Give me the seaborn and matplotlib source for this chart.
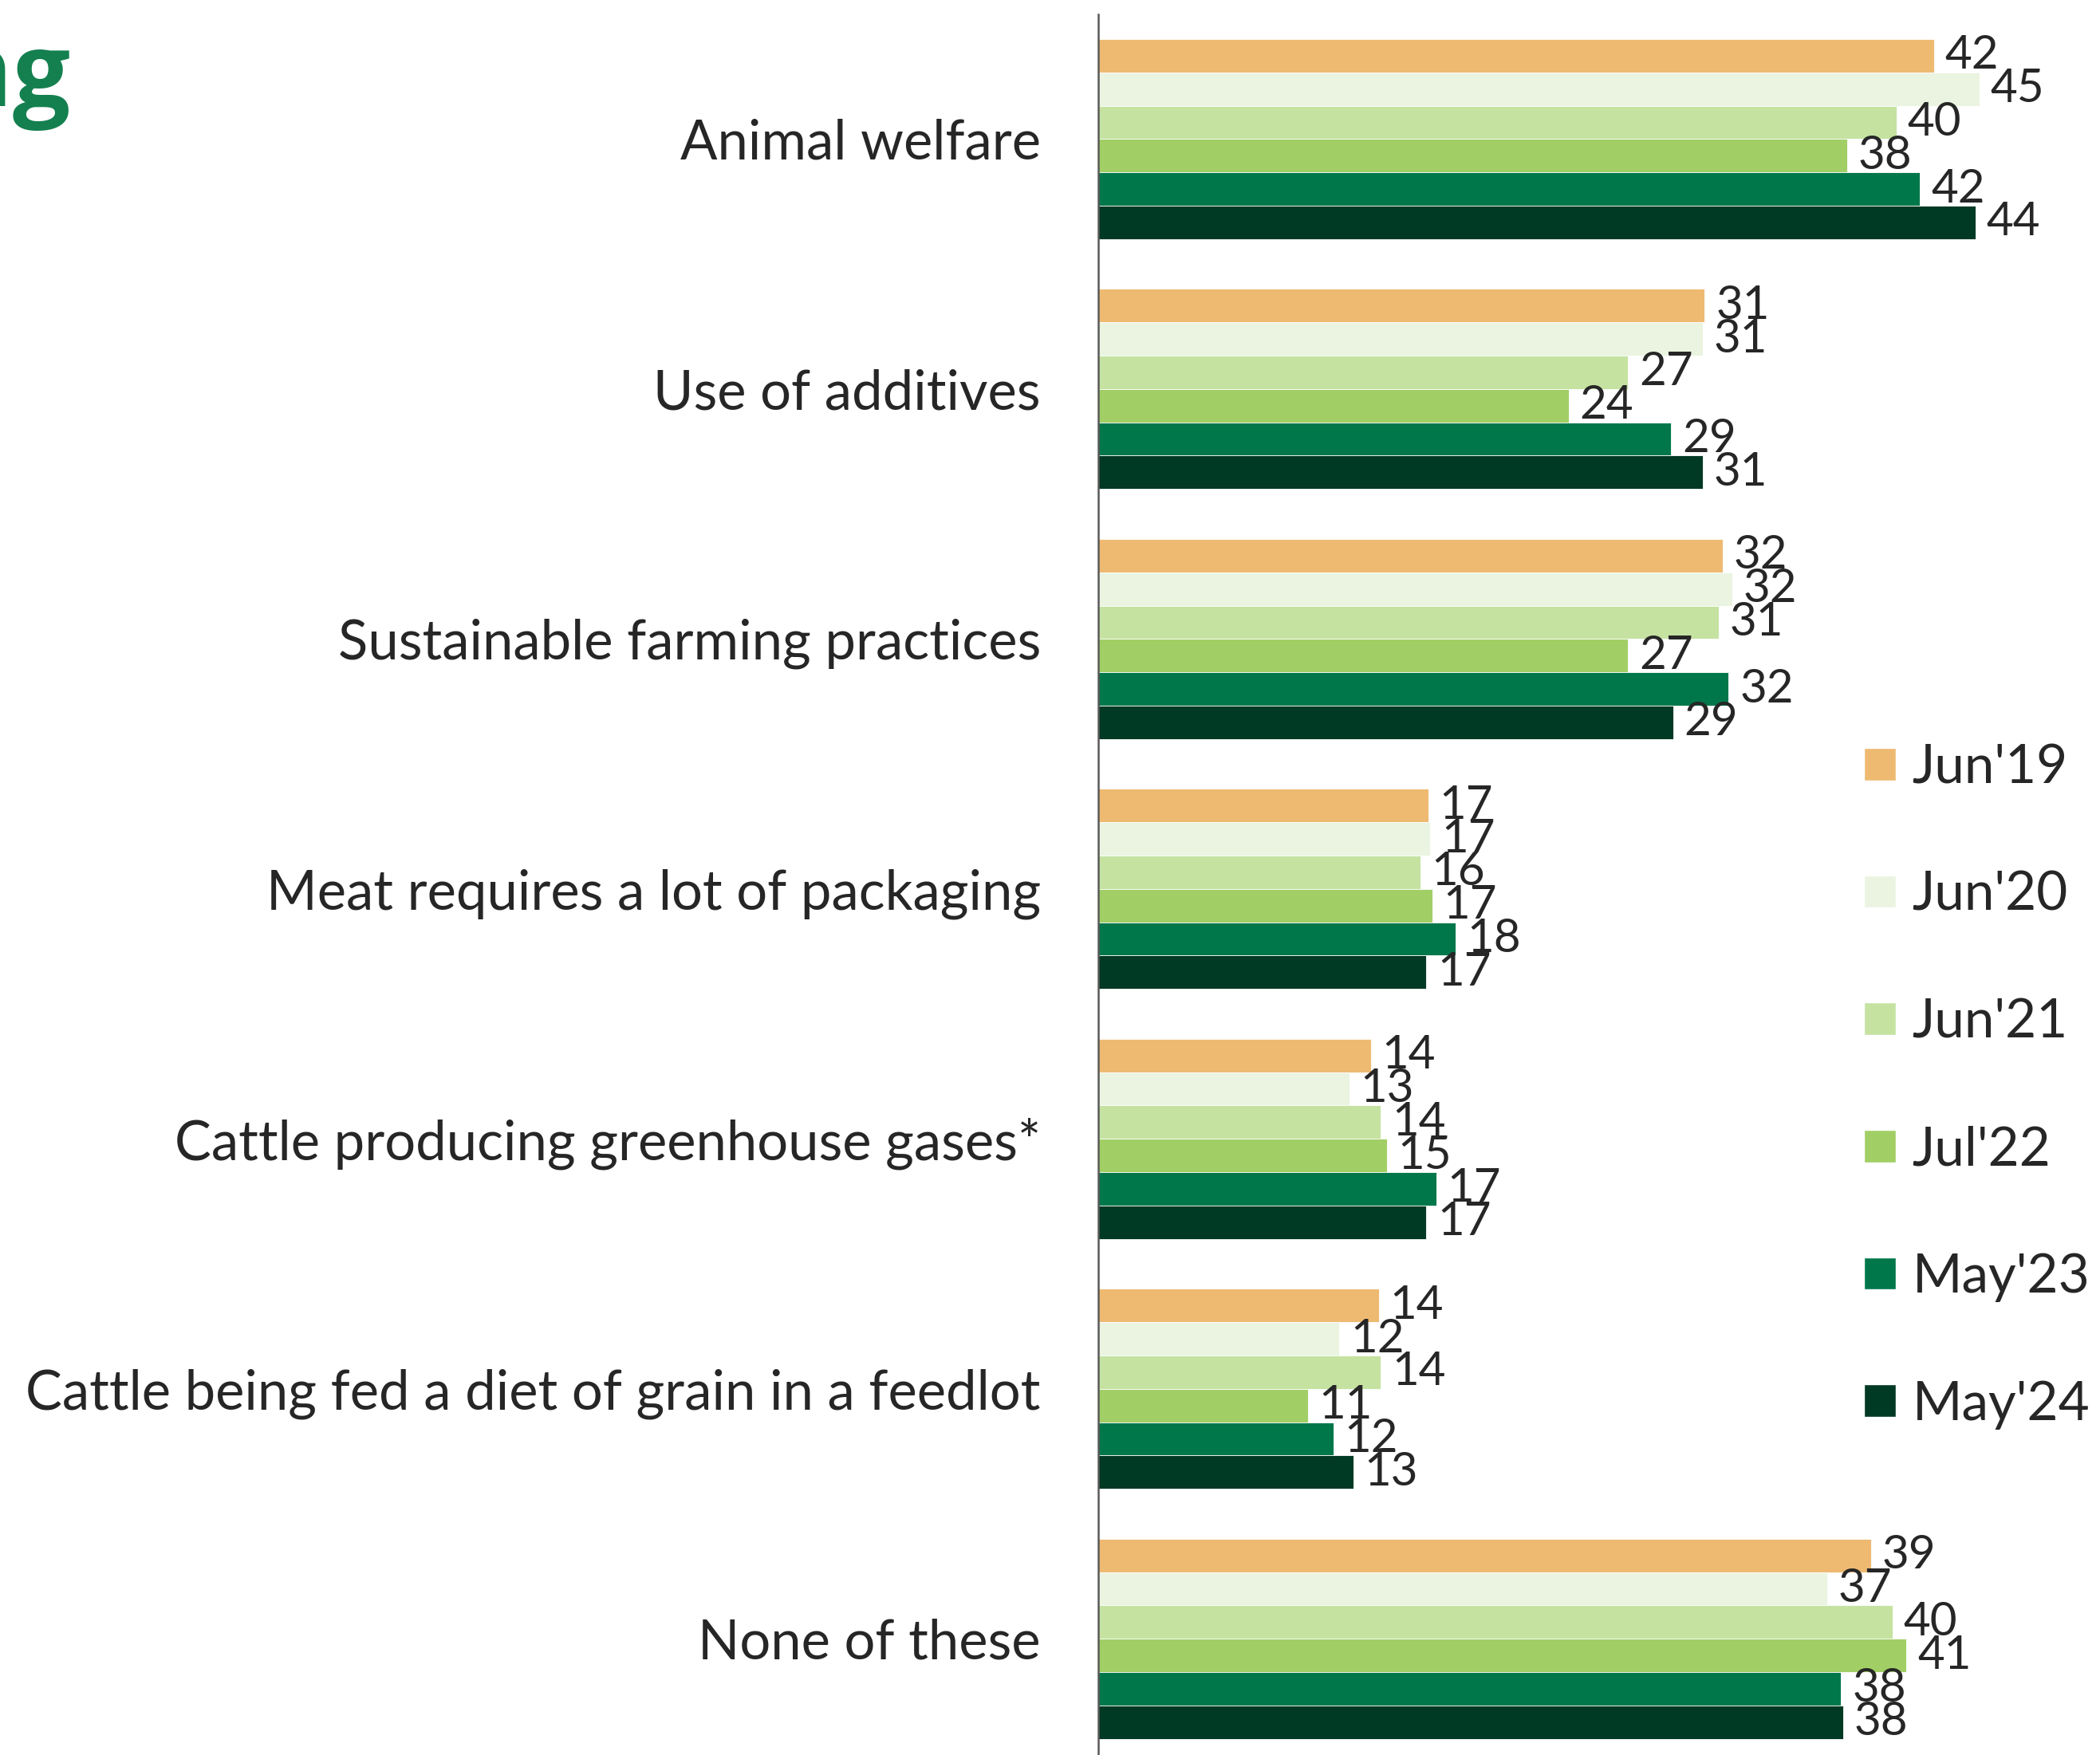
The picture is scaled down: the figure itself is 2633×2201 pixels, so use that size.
import matplotlib

matplotlib.use("Agg")

import matplotlib.pyplot as plt
import pandas as pd
import seaborn as sns
from matplotlib.patches import Patch

# Concerns about beef, share of respondents (%) per survey wave
categories = [
    "Animal welfare",
    "Use of additives",
    "Sustainable farming practices",
    "Meat requires a lot of packaging",
    "Cattle producing greenhouse gases*",
    "Cattle being fed a diet of grain in a feedlot",
    "None of these",
]
waves = ["Jun'19", "Jun'20", "Jun'21", "Jul'22", "May'23", "May'24"]

jun19 = [42.3, 30.7, 31.6, 16.7, 13.8, 14.2, 39.1]
jun20 = [44.6, 30.6, 32.1, 16.8, 12.7, 12.2, 36.9]
jun21 = [40.4, 26.8, 31.4, 16.3, 14.3, 14.3, 40.2]
jul22 = [37.9, 23.8, 26.8, 16.9, 14.6, 10.6, 40.9]
may23 = [41.6, 29.0, 31.9, 18.1, 17.1, 11.9, 37.6]
may24 = [44.4, 30.6, 29.1, 16.6, 16.6, 12.9, 37.7]

wave_colors = ["#EEBA72", "#EAF4E0", "#C5E2A1", "#A1CF65", "#00774A", "#003924"]

rows = []
for wave, vals in zip(waves, [jun19, jun20, jun21, jul22, may23, may24]):
    for cat, v in zip(categories, vals):
        rows.append({"category": cat, "wave": wave, "value": v})
df = pd.DataFrame(rows)

sns.set_style("white")
plt.rcParams["font.family"] = ["Lato", "DejaVu Sans"]
text_color = "#262626"

fig = plt.figure(figsize=(26.33, 22.01), dpi=100)
ax = fig.add_axes([0.523, -0.005, 0.476, 0.997])

sns.barplot(
    data=df,
    y="category",
    x="value",
    hue="wave",
    order=categories,
    hue_order=waves,
    palette=wave_colors,
    orient="h",
    width=0.8,
    saturation=1,
    errorbar=None,
    edgecolor="white",
    linewidth=0.6,
    legend=False,
    ax=ax,
)

ax.set_xlim(0, 50.6)
ax.set_ylim(6.5, -0.5)

# value labels, rounded like the source
for container in ax.containers:
    labels = [f"{round(v)}" for v in container.datavalues]
    ax.bar_label(container, labels=labels, padding=10, fontsize=42, color=text_color)

ax.set_xlabel("")
ax.set_ylabel("")
ax.set_xticks([])
ax.tick_params(axis="y", length=0, pad=52, labelsize=49.5, labelcolor=text_color)
for side in ["top", "right", "bottom"]:
    ax.spines[side].set_visible(False)
ax.spines["left"].set_color("#595959")
ax.spines["left"].set_linewidth(1.8)

handles = [Patch(facecolor=c, label=w) for w, c in zip(waves, wave_colors)]
fig.legend(
    handles=handles,
    loc="center left",
    bbox_to_anchor=(0.8876, 0.381),
    frameon=False,
    fontsize=48.5,
    handlelength=0.6,
    handleheight=0.55,
    handletextpad=0.3,
    labelspacing=1.45,
    borderpad=0,
    borderaxespad=0,
    labelcolor=text_color,
)

# tail of the slide title, cut by the left edge
fig.text(
    0.0334,
    0.9396,
    "ng",
    ha="right",
    va="baseline",
    fontsize=92,
    fontweight="bold",
    color="#14804F",
    family=["Open Sans", "DejaVu Sans"],
)

fig.savefig("out.png", dpi=100)
